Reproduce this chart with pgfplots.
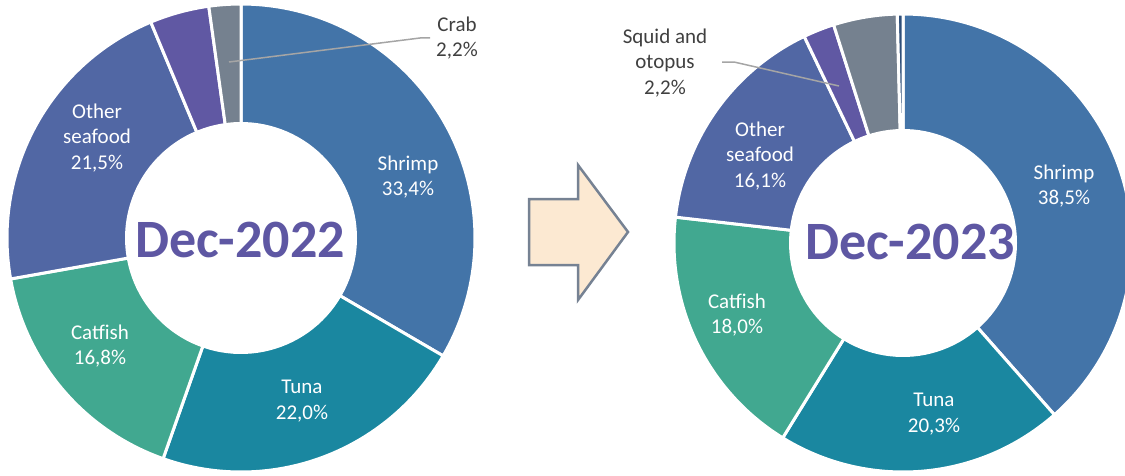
\documentclass[border=0pt]{standalone}
\usepackage{fontspec}
\setmainfont{Carlito}
\usepackage{pgfplots}
\usepackage{pgfplotstable}
\pgfplotsset{compat=1.18}

\definecolor{cShrimp}{HTML}{4374A8}
\definecolor{cTuna}{HTML}{1A87A0}
\definecolor{cCatfish}{HTML}{41A890}
\definecolor{cOther}{HTML}{5167A4}
\definecolor{cSquid}{HTML}{6058A3}
\definecolor{cCrab}{HTML}{75818F}
\definecolor{cDark}{HTML}{2F4F7A}
\definecolor{cTitle}{HTML}{5E57A3}
\definecolor{cText}{HTML}{404040}
\definecolor{cLeader}{HTML}{A5A5A5}
\definecolor{cArrow}{HTML}{FCE9D2}
\definecolor{cArrowEdge}{HTML}{768293}

\tikzset{lbl/.style={align=center, font=\fontsize{21}{25.5}\selectfont},
  ttl/.style={text=cTitle, font=\fontsize{54}{60}\selectfont\bfseries}}

% shares in percent, clockwise from 12 o'clock
\pgfplotstableread{
name    pct   col
Shrimp  33.4  cShrimp
Tuna    22.0  cTuna
Catfish 16.8  cCatfish
Other   21.5  cOther
Squid   4.1   cSquid
Crab    2.2   cCrab
}\decA

\pgfplotstableread{
name    pct   col
Shrimp  38.5  cShrimp
Tuna    20.3  cTuna
Catfish 18.0  cCatfish
Other   16.1  cOther
Squid   2.2   cSquid
Crab    4.5   cCrab
Rest    0.4   cDark
}\decB

% #1 table, #2 cx, #3 cy, #4 outer radius, #5 hole radius
\newcommand\ring[5]{%
  \pgfplotstablegetrowsof{#1}%
  \pgfmathtruncatemacro\nlast{\pgfplotsretval-1}%
  \def\acc{90}%
  \pgfplotsforeachungrouped \i in {0,...,\nlast}{%
    \pgfplotstablegetelem{\i}{pct}\of#1\let\pv\pgfplotsretval
    \pgfplotstablegetelem{\i}{col}\of#1\let\cv\pgfplotsretval
    \pgfmathsetmacro\en{\acc-3.6*\pv}%
    \edef\cmd{\noexpand\addplot[fill=\cv, draw=white, line width=3pt,
      domain=\en:\acc, samples=90, variable=\noexpand\t]
      ({#2+#4*cos(\noexpand\t)},{#3+#4*sin(\noexpand\t)}) -- (axis cs:#2,#3) -- cycle;}%
    \cmd
    \let\acc\en
  }%
  \addplot[fill=white, draw=none, domain=0:360, samples=120, variable=\t]
    ({#2+#5*cos(\t)},{#3+#5*sin(\t)}) -- cycle;
}

\begin{document}
\begin{tikzpicture}
\begin{axis}[width=1125pt, height=475pt, scale only axis,
  xmin=0, xmax=1125, ymin=0, ymax=475, hide axis]

\ring{\decA}{241}{237}{234}{116}
\ring{\decB}{903}{232}{229}{114}

% arrow between the two rings
\addplot[fill=cArrow, draw=cArrowEdge, line width=2.5pt] coordinates {
  (529,276) (578,276) (578,310) (628,243) (578,175) (578,210) (529,210)} -- cycle;

% leader lines
\addplot[cLeader, line width=1.5pt] coordinates {(229,413) (420,437) (430,437)};
\addplot[cLeader, line width=1.5pt] coordinates {(722,413) (734,413) (839,389)};

\node[lbl, text=white] at (axis cs:408,298) {Shrimp\\33,4\%};
\node[lbl, text=white] at (axis cs:302,74) {Tuna\\22,0\%};
\node[lbl, text=white] at (axis cs:100,129) {Catfish\\16,8\%};
\node[lbl, text=white] at (axis cs:97,337) {Other\\seafood\\21,5\%};
\node[lbl, text=cText] at (axis cs:457,437) {Crab\\2,2\%};

\node[lbl, text=white] at (axis cs:1064,289) {Shrimp\\38,5\%};
\node[lbl, text=white] at (axis cs:934,61) {Tuna\\20,3\%};
\node[lbl, text=white] at (axis cs:737,160) {Catfish\\18,0\%};
\node[lbl, text=white] at (axis cs:760,319) {Other\\seafood\\16,1\%};
\node[lbl, text=cText] at (axis cs:665,412) {Squid and\\otopus\\2,2\%};

\node[ttl] at (axis cs:240,235) {Dec-2022};
\node[ttl] at (axis cs:910,233) {Dec-2023};
\end{axis}
\pgfresetboundingbox
\useasboundingbox (0,0) rectangle (1125pt,475pt);
\end{tikzpicture}
\end{document}
